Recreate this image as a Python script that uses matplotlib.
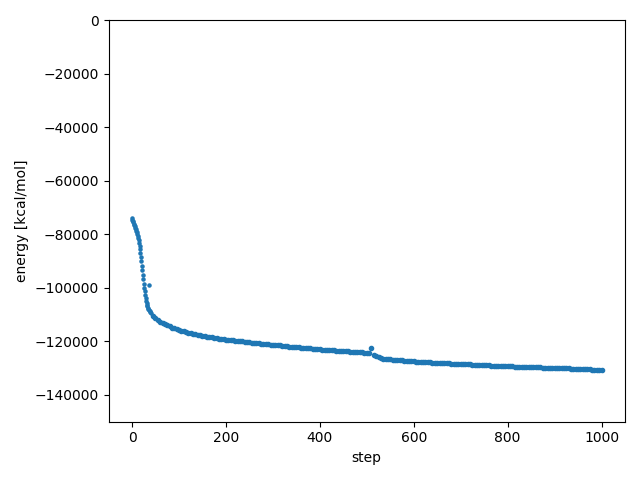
import matplotlib
matplotlib.use("Agg")
import matplotlib.pyplot as plt

# energy per optimisation step
steps_early = list(range(0, 41))
energy_early = [
    -74000, -74500, -75000, -75500, -76000, -76500, -77000, -77500, -78000, -78600,
    -79200, -79800, -80500, -81300, -82200, -83200, -84300, -85500, -86900, -88400,
    -90000, -91700, -93400, -95100, -96800, -98400, -99900, -101300, -102600, -103800,
    -104800, -105600, -106300, -106900, -107400, -107700, -98700, -108300, -108600, -108900,
    -109200,
]

steps_late = list(range(45, 1001, 5))
energy_late = [
    -110400, -111300, -112000, -112600, -113100, -113600, -114000, -114400, -114800, -115100,  # 45-90
    -115400, -115700, -116000, -116200, -116500, -116700, -116900, -117100, -117300, -117500,  # 95-140
    -117700, -117900, -118000, -118200, -118300, -118500, -118600, -118800, -118900, -119000,  # 145-190
    -119200, -119300, -119400, -119500, -119600, -119700, -119800, -119900, -120000, -120100,  # 195-240
    -120200, -120300, -120400, -120500, -120600, -120700, -120800, -120900, -121000, -121100,  # 245-290
    -121200, -121300, -121400, -121500, -121500, -121600, -121700, -121800, -121900, -122000,  # 295-340
    -122000, -122100, -122200, -122300, -122400, -122500, -122500, -122600, -122700, -122800,  # 345-390
    -122900, -122900, -123000, -123100, -123100, -123200, -123300, -123300, -123400, -123500,  # 395-440
    -123500, -123600, -123700, -123700, -123800, -123900, -123900, -124000, -124100, -124100,  # 445-490
    -124200, -124200, -124300, -122600, -124900, -125500, -125900, -126200, -126400, -126500,  # 495-540
    -126600, -126700, -126800, -126900, -126900, -127000, -127100, -127200, -127200, -127300,  # 545-590
    -127400, -127400, -127500, -127500, -127600, -127700, -127700, -127800, -127800, -127900,  # 595-640
    -127900, -128000, -128000, -128100, -128100, -128200, -128200, -128300, -128300, -128400,  # 645-690
    -128400, -128500, -128500, -128600, -128600, -128600, -128700, -128700, -128800, -128800,  # 695-740
    -128800, -128900, -128900, -128900, -129000, -129000, -129100, -129100, -129100, -129200,  # 745-790
    -129200, -129300, -129300, -129300, -129400, -129400, -129400, -129500, -129500, -129500,  # 795-840
    -129600, -129600, -129600, -129700, -129700, -129700, -129800, -129800, -129800, -129900,  # 845-890
    -129900, -129900, -130000, -130000, -130000, -130100, -130100, -130100, -130200, -130200,  # 895-940
    -130200, -130300, -130300, -130300, -130400, -130400, -130400, -130500, -130500, -130500,  # 945-990
    -130600, -130600,  # 995-1000
]

fig, ax = plt.subplots(figsize=(6.4, 4.8), dpi=100)
ax.scatter(steps_early, energy_early, s=5, color='C0')
# later samples are sparser, so draw them a bit bigger to form the solid band
ax.scatter(steps_late, energy_late, s=9, color='C0')
ax.set_ylim(-150000, 0)
ax.set_xlabel('step')
ax.set_ylabel('energy [kcal/mol]')

plt.tight_layout()
plt.savefig('out.png')
